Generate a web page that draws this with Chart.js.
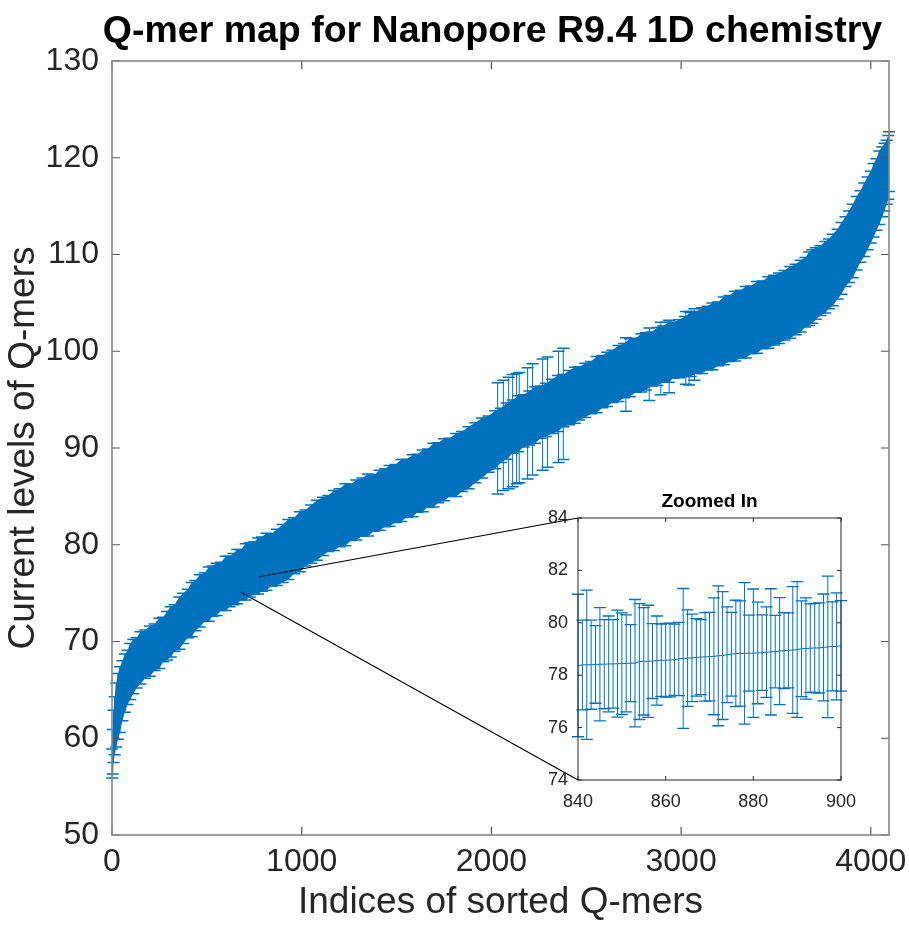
<!DOCTYPE html>
<html>
<head>
<meta charset="utf-8">
<title>Q-mer map</title>
<script src="https://cdn.jsdelivr.net/npm/chart.js@4.4.1/dist/chart.umd.min.js"></script>
<style>
  html, body { margin: 0; padding: 0; background: #fff; }
  #wrap { position: relative; width: 909px; height: 932px; }
  #main { position: absolute; left: 0; top: 0; }
  #zoom { position: absolute; left: 530px; top: 480px; }
</style>
</head>
<body>
<div id="wrap">
  <canvas id="main" width="909" height="932"></canvas>
  <canvas id="zoom" width="330" height="330"></canvas>
</div>
<script>
// sorted Q-mer levels, sampled along the index axis (mean and half-width of the error bar)
const qmerIdx = [
  1, 4, 8, 14, 22, 32, 42, 55, 68, 82, 96,
  112, 130, 150, 175, 200, 225, 250, 270, 290, 310,
  330, 355, 375, 400, 420, 440, 463, 490, 510, 530,
  551, 575, 600, 620, 640, 660, 680, 705, 726, 750,
  770, 790, 814, 840, 870, 900, 930, 960, 990, 1020,
  1050, 1080, 1112, 1140, 1170, 1200, 1230, 1260, 1288, 1320,
  1350, 1380, 1410, 1440, 1463, 1495, 1525, 1555, 1585, 1610,
  1638, 1665, 1695, 1720, 1750, 1780, 1814, 1845, 1880, 1915,
  1950, 1985, 2020, 2050, 2080, 2112, 2140, 2170, 2200, 2230,
  2260, 2288, 2320, 2350, 2380, 2410, 2440, 2463, 2495, 2525,
  2555, 2585, 2610, 2638, 2670, 2700, 2730, 2760, 2790, 2814,
  2845, 2875, 2905, 2935, 2960, 2990, 3020, 3050, 3080, 3110,
  3140, 3165, 3195, 3225, 3255, 3285, 3315, 3341, 3370, 3400,
  3430, 3460, 3490, 3516, 3545, 3575, 3604, 3630, 3655, 3675,
  3691, 3710, 3735, 3760, 3779, 3800, 3825, 3845, 3867, 3885,
  3905, 3925, 3945, 3965, 3983, 4000, 4015, 4030, 4045, 4060,
  4072, 4084, 4092, 4096
];
const qmerMean = [
  57.4, 58.6, 60.2, 61.3, 62.4, 63.3, 64.0, 64.9, 65.7, 66.3, 66.9,
  67.4, 67.8, 68.3, 68.7, 69.0, 69.4, 69.8, 70.2, 70.6, 71.0,
  71.4, 71.9, 72.4, 72.9, 73.3, 73.7, 74.2, 74.6, 74.9, 75.2,
  75.4, 75.7, 76.0, 76.2, 76.45, 76.7, 76.9, 77.2, 77.4, 77.6,
  77.8, 78.0, 78.25, 78.4, 78.7, 79.1, 79.5, 79.9, 80.3, 80.7,
  81.1, 81.5, 81.9, 82.2, 82.5, 82.8, 83.1, 83.35, 83.6, 83.9,
  84.1, 84.3, 84.6, 84.85, 85.05, 85.3, 85.6, 85.85, 86.1, 86.35,
  86.6, 86.9, 87.2, 87.45, 87.75, 88.0, 88.25, 88.6, 89.0, 89.5,
  90.0, 90.4, 90.85, 91.3, 91.75, 92.2, 92.5, 92.8, 93.1, 93.4,
  93.7, 93.95, 94.3, 94.6, 94.9, 95.2, 95.45, 95.65, 95.95, 96.25,
  96.55, 96.85, 97.1, 97.4, 97.7, 98.0, 98.3, 98.55, 98.8, 98.95,
  99.2, 99.45, 99.7, 99.9, 100.1, 100.25, 100.5, 100.7, 100.9, 101.1,
  101.35, 101.55, 101.8, 102.1, 102.35, 102.6, 102.8, 103.0, 103.25, 103.5,
  103.75, 104.0, 104.25, 104.45, 104.75, 105.05, 105.35, 105.7, 106.1, 106.45,
  106.7, 107.0, 107.3, 107.65, 108.0, 108.4, 109.0, 109.6, 110.3, 110.8,
  111.4, 112.2, 112.9, 113.6, 114.25, 114.9, 115.6, 116.2, 116.9, 117.5,
  118.0, 118.5, 119.0, 119.6
];
const qmerErr = [
  1.5, 2.3, 2.7, 3.0, 3.3, 3.4, 3.4, 3.1, 3.0, 2.8, 2.9,
  2.8, 2.6, 2.7, 2.5, 2.6, 2.4, 2.6, 2.3, 2.5, 2.6,
  2.4, 2.7, 2.6, 2.5, 2.8, 2.6, 2.7, 2.5, 2.8, 2.6,
  2.7, 2.5, 2.8, 2.6, 2.65, 2.8, 2.6, 2.9, 2.8, 2.7,
  2.9, 2.8, 2.95, 2.7, 2.9, 3.0, 3.1, 2.9, 3.1, 2.9,
  3.0, 3.1, 3.0, 2.9, 3.1, 3.0, 3.2, 2.9, 3.1, 3.0,
  3.2, 2.9, 3.1, 3.0, 3.15, 3.0, 3.2, 3.0, 3.2, 3.0,
  3.2, 3.0, 3.3, 3.1, 3.2, 3.0, 3.25, 3.1, 3.2, 3.1,
  3.1, 2.9, 3.0, 2.8, 2.9, 2.75, 2.9, 2.7, 2.8, 2.9,
  2.7, 2.75, 2.8, 2.9, 2.7, 2.8, 2.9, 2.75, 2.8, 2.7,
  2.9, 2.7, 2.8, 2.7, 2.9, 2.8, 3.0, 2.8, 3.0, 2.95,
  2.8, 3.0, 2.9, 3.1, 2.9, 3.0, 3.1, 3.3, 3.2, 3.4,
  3.3, 3.45, 3.3, 3.5, 3.4, 3.6, 3.5, 3.7, 3.5, 3.7,
  3.5, 3.7, 3.6, 3.65, 3.6, 3.7, 3.65, 3.7, 3.6, 3.8,
  3.8, 3.7, 3.6, 3.7, 3.6, 3.7, 3.6, 3.7, 3.6, 3.7,
  3.8, 3.8, 3.7, 3.8, 3.75, 3.7, 3.8, 3.7, 3.8, 3.6,
  3.5, 3.3, 3.3, 3.1
];

// Q-mers with unusually wide spread
const wideIdx = [2033, 2063, 2091, 2112, 2133, 2147, 2191, 2217, 2270, 2296, 2354, 2379,
                 2709, 2832, 2893, 2937, 3025, 3042, 3070];
const wideMean = [91.0, 91.3, 91.55, 91.8, 92.0, 92.1, 92.55, 92.95, 93.45, 93.7, 94.25, 94.55,
                  97.6, 98.65, 99.25, 99.45, 100.35, 100.3, 100.7];
const wideErr = [5.75, 5.7, 5.75, 5.8, 5.7, 5.7, 5.75, 5.75, 5.75, 5.7, 5.75, 5.75,
                 3.8, 3.75, 3.75, 3.75, 3.75, 3.8, 3.7];

// zoomed window, indices 840..900
const insetIdx = [
  840, 841, 842, 843, 844, 845, 846, 847, 848, 849,
  850, 851, 852, 853, 854, 855, 856, 857, 858, 859,
  860, 861, 862, 863, 864, 865, 866, 867, 868, 869,
  870, 871, 872, 873, 874, 875, 876, 877, 878, 879,
  880, 881, 882, 883, 884, 885, 886, 887, 888, 889,
  890, 891, 892, 893, 894, 895, 896, 897, 898, 899,
  900
];
const insetMean = [
  78.37, 78.39, 78.40, 78.40, 78.41, 78.42, 78.42, 78.43, 78.43, 78.44,
  78.44, 78.45, 78.46, 78.46, 78.52, 78.53, 78.53, 78.54, 78.56, 78.57,
  78.57, 78.58, 78.59, 78.62, 78.64, 78.65, 78.66, 78.68, 78.69, 78.70,
  78.71, 78.72, 78.74, 78.75, 78.78, 78.80, 78.83, 78.83, 78.83, 78.84,
  78.84, 78.85, 78.86, 78.88, 78.89, 78.90, 78.92, 78.94, 78.95, 78.96,
  78.98, 79.01, 79.02, 79.03, 79.04, 79.04, 79.06, 79.08, 79.10, 79.10,
  79.12
];
const insetErr = [
  2.72, 1.71, 2.85, 1.70, 1.48, 2.16, 1.70, 1.83, 1.69, 2.04,
  1.94, 1.85, 1.47, 2.43, 2.21, 2.05, 2.14, 1.43, 1.70, 1.38,
  1.41, 1.41, 1.36, 1.40, 2.67, 1.84, 1.67, 1.48, 1.43, 1.69,
  1.69, 2.23, 2.67, 2.44, 1.83, 1.60, 2.03, 2.01, 2.70, 1.45,
  2.45, 1.94, 1.44, 1.73, 2.41, 1.38, 2.04, 1.45, 1.43, 2.42,
  2.59, 1.83, 1.93, 1.69, 1.70, 1.72, 2.04, 2.70, 1.70, 2.04,
  1.73
];

// tick values
const xTicks = [0, 1000, 2000, 3000, 4000];
const yTicks = [50, 60, 70, 80, 90, 100, 110, 120, 130];
const insetXTicks = [840, 860, 880, 900];
const insetYTicks = [74, 76, 78, 80, 82, 84];

// where the two zoom guide lines leave the main plot (index, level)
const zoomLinkFrom = [[776, 76.7], [675, 75.15]];

const BLUE = '#0072BD';
const INK = '#262626';
const FONT = '"Liberation Sans", Arial, Helvetica, sans-serif';
Chart.defaults.font.family = FONT;
Chart.defaults.color = INK;

const pts = (xs, ys) => xs.map((v, i) => ({ x: v, y: ys[i] }));
const fixedTicks = vals => s => { s.ticks = vals.map(v => ({ value: v })); };

// vertical error bars with caps, drawn for every dataset that carries errorBars
const errorBars = {
  id: 'errorBars',
  afterDatasetsDraw(chart, args, opts) {
    const { ctx } = chart;
    const x = chart.scales.x, y = chart.scales.y;
    ctx.save();
    ctx.strokeStyle = opts.color;
    chart.data.datasets.forEach(ds => {
      if (!ds.errorBars) return;
      ds.data.forEach((p, i) => {
        const e = ds.errorBars[i];
        const px = x.getPixelForValue(p.x);
        const hi = y.getPixelForValue(p.y + e);
        const lo = y.getPixelForValue(p.y - e);
        ctx.lineWidth = opts.stem;
        ctx.beginPath();
        ctx.moveTo(px, hi);
        ctx.lineTo(px, lo);
        ctx.stroke();
        ctx.lineWidth = opts.capWidth;
        ctx.beginPath();
        ctx.moveTo(px - opts.cap, hi); ctx.lineTo(px + opts.cap, hi);
        ctx.moveTo(px - opts.cap, lo); ctx.lineTo(px + opts.cap, lo);
        ctx.stroke();
      });
    });
    ctx.restore();
  }
};

// closed box with inward ticks on all four sides
const axesBox = {
  id: 'axesBox',
  afterDatasetsDraw(chart, args, opts) {
    const { ctx, chartArea: a } = chart;
    const x = chart.scales.x, y = chart.scales.y;
    ctx.save();
    ctx.strokeStyle = opts.tickColor;
    ctx.lineWidth = opts.tickWidth;
    ctx.beginPath();
    x.ticks.forEach(t => {
      const px = x.getPixelForValue(t.value);
      ctx.moveTo(px, a.bottom); ctx.lineTo(px, a.bottom - opts.len);
      ctx.moveTo(px, a.top); ctx.lineTo(px, a.top + opts.len);
    });
    y.ticks.forEach(t => {
      const py = y.getPixelForValue(t.value);
      ctx.moveTo(a.left, py); ctx.lineTo(a.left + opts.len, py);
      ctx.moveTo(a.right, py); ctx.lineTo(a.right - opts.len, py);
    });
    ctx.stroke();
    ctx.strokeStyle = opts.color;
    ctx.lineWidth = opts.width;
    ctx.strokeRect(a.left, a.top, a.right - a.left, a.bottom - a.top);
    ctx.restore();
  }
};

// bold title over the plot area
const axesTitle = {
  id: 'axesTitle',
  afterDraw(chart, args, opts) {
    const { ctx, chartArea: a } = chart;
    ctx.save();
    ctx.font = `bold ${opts.size}px ${FONT}`;
    ctx.fillStyle = '#000';
    ctx.textAlign = 'center';
    ctx.textBaseline = 'alphabetic';
    ctx.fillText(opts.text, (a.left + a.right) / 2 + (opts.shift || 0), opts.baseline);
    ctx.restore();
  }
};

const plotBackground = {
  id: 'plotBackground',
  beforeDraw(chart) {
    const { ctx, chartArea: a } = chart;
    ctx.save();
    ctx.fillStyle = '#fff';
    ctx.fillRect(a.left, a.top, a.right - a.left, a.bottom - a.top);
    ctx.restore();
  }
};

const zoomCanvas = document.getElementById('zoom');

const zoomChart = new Chart(zoomCanvas, {
  type: 'line',
  data: {
    datasets: [{
      data: pts(insetIdx, insetMean),
      errorBars: insetErr,
      borderColor: BLUE,
      borderWidth: 1,
      pointRadius: 0,
      fill: false
    }]
  },
  options: {
    responsive: false,
    animation: false,
    devicePixelRatio: 1,
    layout: { padding: { top: 38, right: 19, left: 0, bottom: 0 } },
    plugins: {
      legend: { display: false },
      tooltip: { enabled: false },
      errorBars: { color: BLUE, stem: 1, capWidth: 1.3, cap: 6 },
      axesBox: { color: '#262626', width: 1, tickColor: '#262626', tickWidth: 1, len: 4 },
      axesTitle: { text: 'Zoomed In', size: 19, baseline: 27 }
    },
    scales: {
      x: {
        type: 'linear', min: 840, max: 900,
        grid: { display: false, drawTicks: false }, border: { display: false },
        ticks: { padding: 11, maxRotation: 0, font: { size: 18 }, color: INK },
        afterBuildTicks: fixedTicks(insetXTicks),
        afterFit(s) { s.height = 30; s.paddingLeft = 0; s.paddingRight = 0; }
      },
      y: {
        min: 74, max: 84,
        grid: { display: false, drawTicks: false }, border: { display: false },
        ticks: { padding: 10, font: { size: 18 }, color: INK },
        afterBuildTicks: fixedTicks(insetYTicks),
        afterFit(s) { s.width = 48; s.paddingTop = 0; s.paddingBottom = 0; }
      }
    }
  },
  plugins: [plotBackground, errorBars, axesBox, axesTitle]
});

// guide lines from the main band to the corners of the zoom box
const zoomLinks = {
  id: 'zoomLinks',
  afterDatasetsDraw(chart) {
    const { ctx } = chart;
    const x = chart.scales.x, y = chart.scales.y;
    const a = zoomChart.chartArea;
    const ox = zoomCanvas.offsetLeft, oy = zoomCanvas.offsetTop;
    const ends = [[ox + a.left, oy + a.top], [ox + a.left, oy + a.bottom]];
    ctx.save();
    ctx.strokeStyle = '#000';
    ctx.lineWidth = 1.1;
    ctx.beginPath();
    zoomLinkFrom.forEach((p, i) => {
      ctx.moveTo(x.getPixelForValue(p[0]), y.getPixelForValue(p[1]));
      ctx.lineTo(ends[i][0], ends[i][1]);
    });
    ctx.stroke();
    ctx.restore();
  }
};

const upper = qmerIdx.map((v, i) => ({ x: v, y: qmerMean[i] + qmerErr[i] }));
const lower = qmerIdx.map((v, i) => ({ x: v, y: qmerMean[i] - qmerErr[i] }));

new Chart(document.getElementById('main'), {
  type: 'line',
  data: {
    datasets: [
      { data: upper, fill: '+1', backgroundColor: BLUE, borderWidth: 0, pointRadius: 0 },
      { data: lower, fill: false, borderWidth: 0, pointRadius: 0 },
      { data: pts(qmerIdx, qmerMean), errorBars: qmerErr, borderColor: BLUE, borderWidth: 1, pointRadius: 0, fill: false },
      { data: pts(wideIdx, wideMean), errorBars: wideErr, showLine: false, pointRadius: 0, fill: false }
    ]
  },
  options: {
    responsive: false,
    animation: false,
    devicePixelRatio: 1,
    layout: { padding: { top: 61, right: 20, left: 0, bottom: 0 } },
    plugins: {
      legend: { display: false },
      tooltip: { enabled: false },
      errorBars: { color: BLUE, stem: 1, capWidth: 1.5, cap: 6 },
      axesBox: { color: '#888', width: 1.6, tickColor: '#555', tickWidth: 1.2, len: 8 },
      axesTitle: { text: 'Q-mer map for Nanopore R9.4 1D chemistry', size: 37.5, baseline: 42, shift: -8 }
    },
    scales: {
      x: {
        type: 'linear', min: 0, max: 4096,
        grid: { display: false, drawTicks: false }, border: { display: false },
        ticks: { padding: 8, maxRotation: 0, font: { size: 32 }, color: INK, callback: v => String(v) },
        afterBuildTicks: fixedTicks(xTicks),
        title: { display: true, text: 'Indices of sorted Q-mers', font: { size: 37 }, color: INK, padding: { top: 0, bottom: 7 } },
        afterFit(s) { s.height = 97; s.paddingLeft = 0; s.paddingRight = 0; }
      },
      y: {
        min: 50, max: 130,
        grid: { display: false, drawTicks: false }, border: { display: false },
        ticks: { padding: 13, font: { size: 32 }, color: INK },
        afterBuildTicks: fixedTicks(yTicks),
        title: { display: true, text: 'Current levels of Q-mers', font: { size: 37 }, color: INK, padding: { top: 2, bottom: 0 } },
        afterFit(s) { s.width = 112; s.paddingTop = 0; s.paddingBottom = 0; }
      }
    }
  },
  plugins: [zoomLinks, errorBars, axesBox, axesTitle]
});
</script>
</body>
</html>
